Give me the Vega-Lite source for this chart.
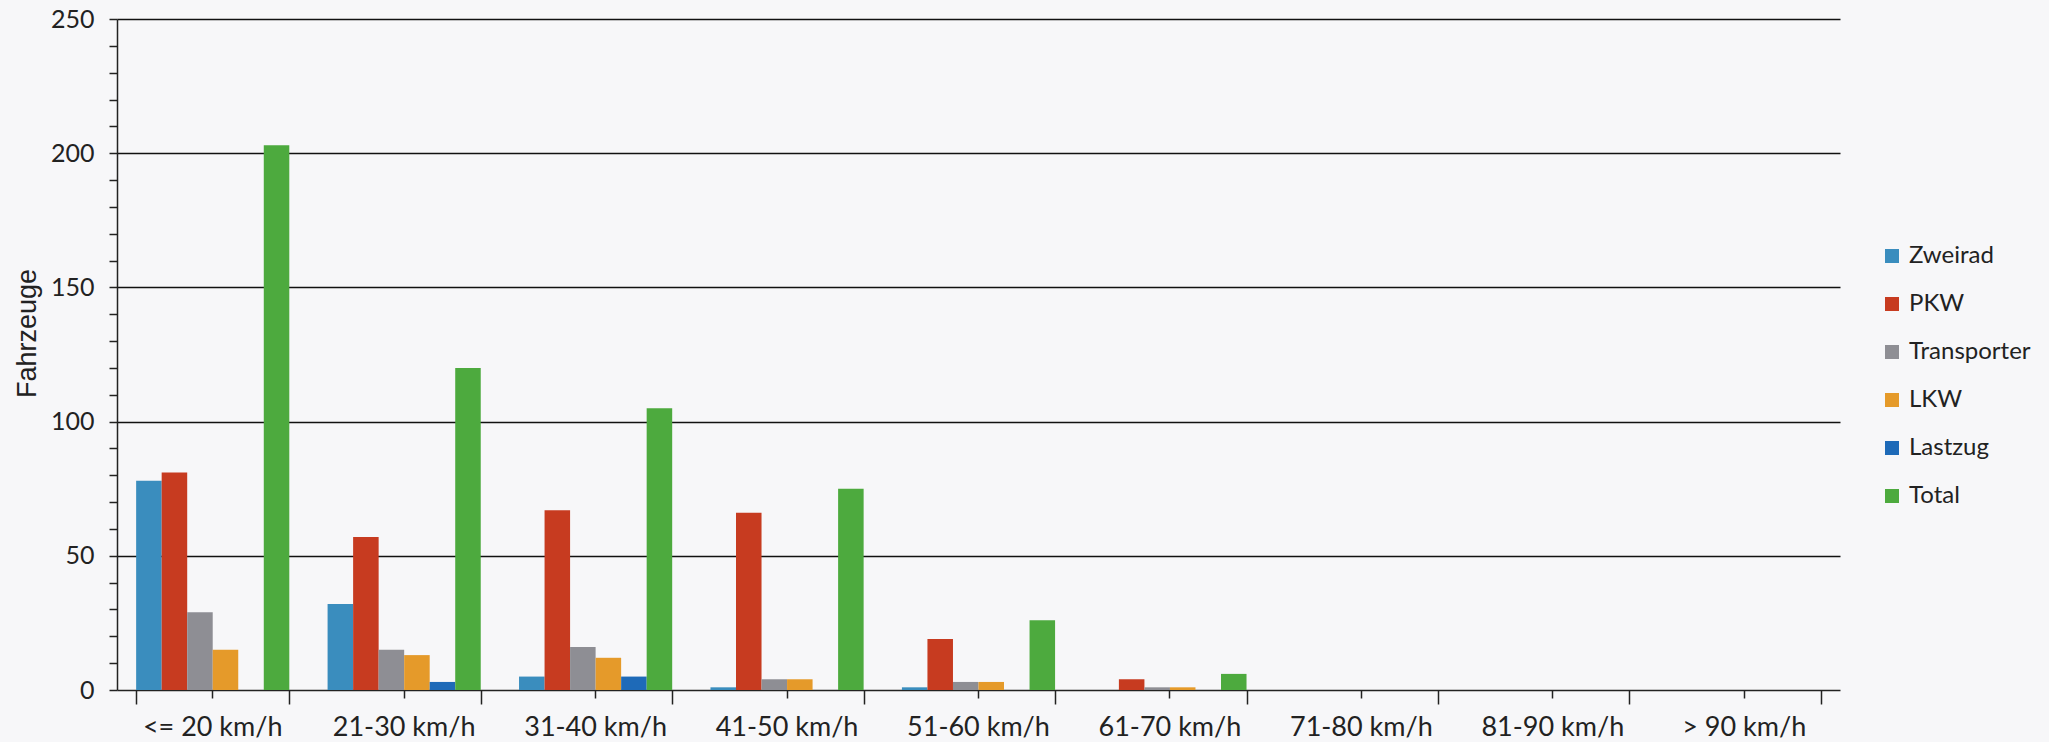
{
  "$schema": "https://vega.github.io/schema/vega-lite/v6.json",
  "autosize": {"type": "none"},
  "width": 1723,
  "height": 671,
  "padding": {"left": 117, "top": 19, "right": 209, "bottom": 52},
  "background": "#F7F7F9",
  "config": {
    "view": {"stroke": null},
    "font": "Lato"
  },
  "data": {
    "values": [
      {"speed": "<= 20 km/h", "type": "Zweirad", "count": 78},
      {"speed": "<= 20 km/h", "type": "PKW", "count": 81},
      {"speed": "<= 20 km/h", "type": "Transporter", "count": 29},
      {"speed": "<= 20 km/h", "type": "LKW", "count": 15},
      {"speed": "<= 20 km/h", "type": "Lastzug", "count": 0},
      {"speed": "<= 20 km/h", "type": "Total", "count": 203},
      {"speed": "21-30 km/h", "type": "Zweirad", "count": 32},
      {"speed": "21-30 km/h", "type": "PKW", "count": 57},
      {"speed": "21-30 km/h", "type": "Transporter", "count": 15},
      {"speed": "21-30 km/h", "type": "LKW", "count": 13},
      {"speed": "21-30 km/h", "type": "Lastzug", "count": 3},
      {"speed": "21-30 km/h", "type": "Total", "count": 120},
      {"speed": "31-40 km/h", "type": "Zweirad", "count": 5},
      {"speed": "31-40 km/h", "type": "PKW", "count": 67},
      {"speed": "31-40 km/h", "type": "Transporter", "count": 16},
      {"speed": "31-40 km/h", "type": "LKW", "count": 12},
      {"speed": "31-40 km/h", "type": "Lastzug", "count": 5},
      {"speed": "31-40 km/h", "type": "Total", "count": 105},
      {"speed": "41-50 km/h", "type": "Zweirad", "count": 1},
      {"speed": "41-50 km/h", "type": "PKW", "count": 66},
      {"speed": "41-50 km/h", "type": "Transporter", "count": 4},
      {"speed": "41-50 km/h", "type": "LKW", "count": 4},
      {"speed": "41-50 km/h", "type": "Lastzug", "count": 0},
      {"speed": "41-50 km/h", "type": "Total", "count": 75},
      {"speed": "51-60 km/h", "type": "Zweirad", "count": 1},
      {"speed": "51-60 km/h", "type": "PKW", "count": 19},
      {"speed": "51-60 km/h", "type": "Transporter", "count": 3},
      {"speed": "51-60 km/h", "type": "LKW", "count": 3},
      {"speed": "51-60 km/h", "type": "Lastzug", "count": 0},
      {"speed": "51-60 km/h", "type": "Total", "count": 26},
      {"speed": "61-70 km/h", "type": "Zweirad", "count": 0},
      {"speed": "61-70 km/h", "type": "PKW", "count": 4},
      {"speed": "61-70 km/h", "type": "Transporter", "count": 1},
      {"speed": "61-70 km/h", "type": "LKW", "count": 1},
      {"speed": "61-70 km/h", "type": "Lastzug", "count": 0},
      {"speed": "61-70 km/h", "type": "Total", "count": 6},
      {"speed": "71-80 km/h", "type": "Zweirad", "count": 0},
      {"speed": "71-80 km/h", "type": "PKW", "count": 0},
      {"speed": "71-80 km/h", "type": "Transporter", "count": 0},
      {"speed": "71-80 km/h", "type": "LKW", "count": 0},
      {"speed": "71-80 km/h", "type": "Lastzug", "count": 0},
      {"speed": "71-80 km/h", "type": "Total", "count": 0},
      {"speed": "81-90 km/h", "type": "Zweirad", "count": 0},
      {"speed": "81-90 km/h", "type": "PKW", "count": 0},
      {"speed": "81-90 km/h", "type": "Transporter", "count": 0},
      {"speed": "81-90 km/h", "type": "LKW", "count": 0},
      {"speed": "81-90 km/h", "type": "Lastzug", "count": 0},
      {"speed": "81-90 km/h", "type": "Total", "count": 0},
      {"speed": "> 90 km/h", "type": "Zweirad", "count": 0},
      {"speed": "> 90 km/h", "type": "PKW", "count": 0},
      {"speed": "> 90 km/h", "type": "Transporter", "count": 0},
      {"speed": "> 90 km/h", "type": "LKW", "count": 0},
      {"speed": "> 90 km/h", "type": "Lastzug", "count": 0},
      {"speed": "> 90 km/h", "type": "Total", "count": 0}
    ]
  },
  "resolve": {"axis": {"x": "independent"}},
  "layer": [
    {
      "mark": {"type": "bar"},
      "encoding": {
        "x": {
          "field": "speed",
          "type": "nominal",
          "sort": ["<= 20 km/h", "21-30 km/h", "31-40 km/h", "41-50 km/h", "51-60 km/h", "61-70 km/h", "71-80 km/h", "81-90 km/h", "> 90 km/h"],
          "scale": {"paddingInner": 0.2, "paddingOuter": 0.1},
          "axis": {
            "orient": "bottom",
            "title": null,
            "labels": false,
            "tickBand": "extent",
            "tickSize": 14,
            "tickColor": "#222222",
            "tickWidth": 1.5,
            "domainColor": "#222222",
            "domainWidth": 1.5
          }
        },
        "xOffset": {
          "field": "type",
          "type": "nominal",
          "sort": ["Zweirad", "PKW", "Transporter", "LKW", "Lastzug", "Total"],
          "scale": {"paddingInner": 0, "paddingOuter": 0}
        },
        "y": {
          "field": "count",
          "type": "quantitative",
          "scale": {"domain": [0, 250], "nice": false},
          "axis": {
            "title": "Fahrzeuge",
            "titleFont": "Liberation Sans",
            "titleFontSize": 27,
            "titleFontWeight": "normal",
            "titleColor": "#222222",
            "titleX": -82,
            "titleY": 314,
            "titleBaseline": "alphabetic",
            "titleAngle": 270,
            "values": [0, 10, 20, 30, 40, 50, 60, 70, 80, 90, 100, 110, 120, 130, 140, 150, 160, 170, 180, 190, 200, 210, 220, 230, 240, 250],
            "labelExpr": "datum.value % 50 === 0 ? datum.label : ''",
            "labelFontSize": 25,
            "labelColor": "#222222",
            "labelPadding": 15,
            "tickSize": 8,
            "tickColor": "#222222",
            "tickWidth": 1.5,
            "domainColor": "#222222",
            "domainWidth": 1.5,
            "grid": true,
            "gridColor": "#111111",
            "gridWidth": 1.5,
            "gridOpacity": {"condition": {"test": "datum.value % 50 === 0 && datum.value > 0", "value": 1}, "value": 0}
          }
        },
        "color": {
          "field": "type",
          "type": "nominal",
          "scale": {
            "domain": ["Zweirad", "PKW", "Transporter", "LKW", "Lastzug", "Total"],
            "range": ["#3A8DBE", "#C73B20", "#8E8E94", "#E59A2A", "#1E6AB8", "#4DAA3E"]
          },
          "legend": {
            "title": null,
            "orient": "none",
            "legendX": 1763,
            "legendY": 225,
            "symbolType": "square",
            "symbolSize": 196,
            "symbolStrokeWidth": 0,
            "labelFontSize": 24,
            "labelColor": "#222222",
            "labelOffset": 5,
            "rowPadding": 24
          }
        }
      }
    },
    {
      "mark": {"type": "point", "opacity": 0},
      "encoding": {
        "x": {
          "field": "speed",
          "type": "nominal",
          "sort": ["<= 20 km/h", "21-30 km/h", "31-40 km/h", "41-50 km/h", "51-60 km/h", "61-70 km/h", "71-80 km/h", "81-90 km/h", "> 90 km/h"],
          "axis": {
            "orient": "bottom",
            "title": null,
            "domain": false,
            "labelAngle": 0,
            "labelFontSize": 27,
            "labelColor": "#222222",
            "labelPadding": 16,
            "labelBaseline": "top",
            "tickSize": 8,
            "tickColor": "#222222",
            "tickWidth": 1.5
          }
        }
      }
    }
  ]
}
